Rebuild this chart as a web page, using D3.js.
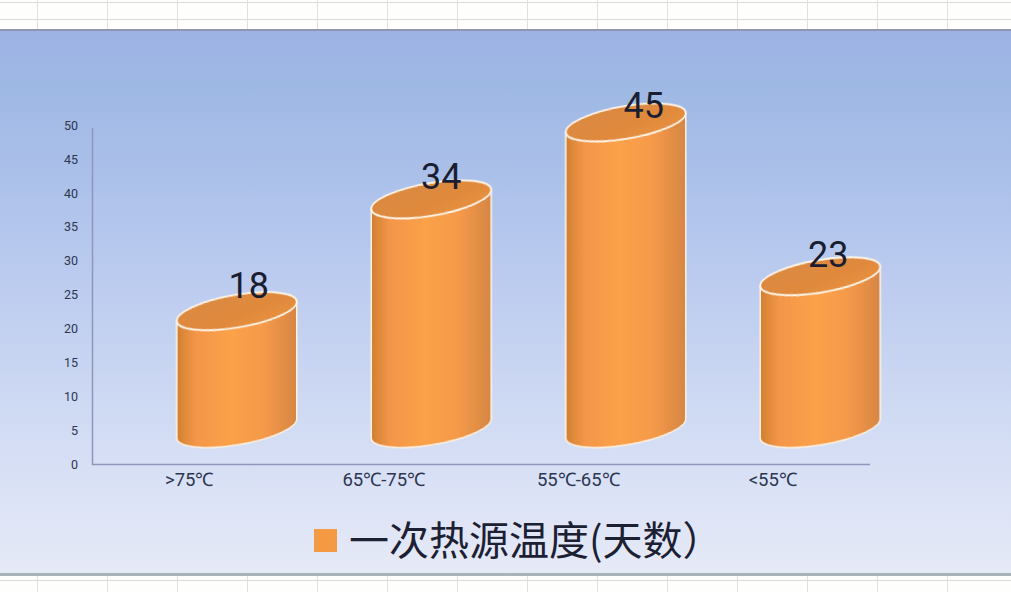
<!DOCTYPE html>
<html><head><meta charset="utf-8">
<script src="https://cdn.jsdelivr.net/npm/d3@7"></script>
<style>html,body{margin:0;padding:0;background:#fff;overflow:hidden}svg{display:block}</style>
</head><body><svg id="c" width="1011" height="592"></svg>
<script>
const categories = [">75℃", "65℃-75℃", "55℃-65℃", "<55℃"];
const values = [18, 34, 45, 23];
const yTicks = [0, 5, 10, 15, 20, 25, 30, 35, 40, 45, 50];
const legendLabel = "一次热源温度(天数）";
const labelNudgeX = [12, 10, 18, 8];
const labelNudgeY = [-26, -23, -17, -22];

const W = 1011, H = 592;
const svg = d3.select("#c");
const defs = svg.append("defs");
const grad = (id, attrs, stops) => {
  const g = defs.append("linearGradient").attr("id", id).attr("gradientUnits", "objectBoundingBox");
  Object.entries(attrs).forEach(([k, v]) => g.attr(k, v));
  stops.forEach(([o, c]) => g.append("stop").attr("offset", o).attr("stop-color", c));
};
grad("bg", {x1: 0, y1: 0, x2: 0, y2: 1}, [
  [0, "#9DB2E4"], [0.1, "#9EB8E4"], [0.28, "#ACC1EA"], [0.45, "#BBCBEF"],
  [0.7, "#CFDAF3"], [0.85, "#DBE2F6"], [1, "#E6EAF7"]]);
grad("body", {x1: 0, y1: 0, x2: 1, y2: 0}, [
  [0, "#D07E30"], [0.06, "#DF893A"], [0.16, "#F3964A"], [0.45, "#FBA14A"],
  [0.72, "#F59A49"], [0.88, "#E48E45"], [1, "#D58644"]]);
grad("cap", {x1: 0, y1: 0, x2: 1, y2: 1}, [
  [0, "#DA8A42"], [0.6, "#E0893D"], [1, "#E99440"]]);
const soft = defs.append("filter").attr("id", "soft").attr("x", "-5%").attr("y", "-5%")
  .attr("width", "110%").attr("height", "110%");
soft.append("feGaussianBlur").attr("stdDeviation", 0.5);

// spreadsheet behind the chart
const sheet = svg.append("g");
sheet.append("rect").attr("width", W).attr("height", H).attr("fill", "#FEFEFC");
[2.5, 19.5, 580.5].forEach(y => sheet.append("line").attr("x1", 0).attr("x2", W)
  .attr("y1", y).attr("y2", y).attr("stroke", "#DADCDC"));
d3.range(37.5, W, 70).forEach(x => sheet.append("line").attr("x1", x).attr("x2", x)
  .attr("y1", 0).attr("y2", H).attr("stroke", "#E0E2E2"));

// chart area
svg.append("rect").attr("x", 0).attr("y", 30).attr("width", W).attr("height", 544).attr("fill", "url(#bg)");
svg.append("rect").attr("x", 0).attr("y", 29).attr("width", W).attr("height", 2).attr("fill", "#8E97AE");
svg.append("rect").attr("x", 0).attr("y", 573).attr("width", W).attr("height", 3).attr("fill", "#A9B4B8");

const x = d3.scaleBand().domain(categories).range([92, 870]);
const y = d3.scaleLinear().domain([0, 50]).range([464.2, 125.2]);
const yBar = d3.scaleLinear().domain([0, 50]).range([437, 87.5]);

const axisColor = "#8E96BC", textColor = "#2C3650";
const gy = svg.append("g").attr("transform", "translate(78,0)")
  .call(d3.axisLeft(y).tickValues(yTicks).tickSize(0).tickPadding(0));
const gx = svg.append("g").attr("transform", "translate(0,465)")
  .call(d3.axisBottom(x).tickSize(0).tickPadding(8));
gy.select(".domain").remove();
gx.select(".domain").remove();
[gy, gx].forEach(g => g.selectAll("text").attr("fill", textColor)
  .attr("font-family", "Roboto, sans-serif"));
gy.selectAll("text").attr("font-size", 12.5);
gx.selectAll("text").attr("font-size", 18.5);
svg.append("line").attr("x1", 92.5).attr("x2", 92.5).attr("y1", 128).attr("y2", 465)
  .attr("stroke", axisColor).attr("stroke-width", 1.5);
svg.append("line").attr("x1", 92).attr("x2", 870).attr("y1", 464.5).attr("y2", 464.5)
  .attr("stroke", axisColor).attr("stroke-width", 1.5);

// cylinders
const RX = 60, RY = 16.5, BARDX = 47.5, BASE_CY = 428.5;
const bars = svg.selectAll("g.bar").data(values).join("g").attr("class", "bar")
  .attr("filter", "url(#soft)")
  .attr("transform", (d, i) => `translate(${x(categories[i]) + x.bandwidth() / 2 + BARDX},0) skewY(-9)`);
bars.append("path")
  .attr("d", d => `M${-RX},${yBar(d)}L${-RX},${BASE_CY}A${RX},${RY} 0 0 0 ${RX},${BASE_CY}L${RX},${yBar(d)}Z`)
  .attr("fill", "url(#body)").attr("stroke", "#FDF1DE").attr("stroke-width", 1.5);
bars.append("ellipse").attr("cx", 0).attr("cy", d => yBar(d)).attr("rx", RX).attr("ry", RY)
  .attr("fill", "url(#cap)").attr("stroke", "#FFF6E6").attr("stroke-width", 1.8);

// value labels
svg.selectAll("text.val").data(values).join("text").attr("class", "val")
  .attr("x", (d, i) => x(categories[i]) + x.bandwidth() / 2 + BARDX + labelNudgeX[i])
  .attr("y", (d, i) => yBar(d) + labelNudgeY[i])
  .attr("dy", "0.36em").attr("text-anchor", "middle")
  .attr("font-family", "Roboto, sans-serif").attr("font-size", 36)
  .attr("fill", "#1A1E30").text(d => d);

// legend
svg.append("rect").attr("x", 314).attr("y", 529).attr("width", 23).attr("height", 23).attr("fill", "#F49A45");
svg.append("text").attr("x", 349).attr("y", 541).attr("dy", "0.36em")
  .attr("font-family", "'Noto Sans CJK SC', sans-serif").attr("font-size", 40)
  .attr("fill", "#1B2033").text(legendLabel);
</script></body></html>
